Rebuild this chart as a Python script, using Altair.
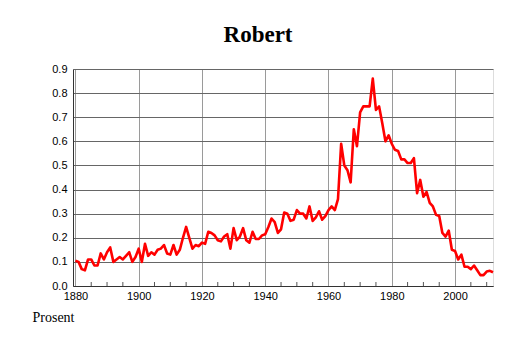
import altair as alt
import pandas as pd

years = list(range(1880, 2013))
values = [
    0.105, 0.10, 0.07, 0.065, 0.11, 0.11, 0.085, 0.085, 0.135, 0.11,
    0.14, 0.16, 0.10, 0.11, 0.12, 0.11, 0.125, 0.14, 0.10, 0.12,
    0.155, 0.10, 0.175, 0.125, 0.14, 0.13, 0.15, 0.155, 0.17, 0.135,
    0.13, 0.17, 0.13, 0.15, 0.20, 0.245, 0.20, 0.155, 0.17, 0.165,
    0.18, 0.175, 0.225, 0.22, 0.21, 0.19, 0.185, 0.205, 0.215, 0.155,
    0.24, 0.19, 0.205, 0.24, 0.19, 0.18, 0.225, 0.195, 0.195, 0.21,
    0.215, 0.245, 0.28, 0.265, 0.22, 0.235, 0.305, 0.30, 0.27, 0.275,
    0.315, 0.30, 0.30, 0.28, 0.33, 0.27, 0.285, 0.31, 0.275, 0.29,
    0.315, 0.33, 0.315, 0.36, 0.59, 0.50, 0.48, 0.43, 0.65, 0.58,
    0.72, 0.745, 0.745, 0.745, 0.86, 0.73, 0.745, 0.675, 0.60, 0.625,
    0.59, 0.565, 0.56, 0.525, 0.525, 0.51, 0.51, 0.53, 0.385, 0.44,
    0.37, 0.39, 0.345, 0.33, 0.295, 0.29, 0.22, 0.205, 0.23, 0.15,
    0.145, 0.11, 0.13, 0.08, 0.08, 0.07, 0.085, 0.065, 0.045, 0.045,
    0.06, 0.063, 0.057,
]
x_ticks = [1880, 1900, 1920, 1940, 1960, 1980, 2000]
y_ticks = [0.0, 0.1, 0.2, 0.3, 0.4, 0.5, 0.6, 0.7, 0.8, 0.9]
minor_ticks = [y for y in range(1885, 2012, 5) if y % 20 != 0]

df = pd.DataFrame({"year": years, "value": values})
ticks_df = pd.DataFrame({"year": minor_ticks})

x_scale = alt.Scale(domain=[1879.24, 2012], nice=False, zero=False)
y_scale = alt.Scale(domain=[0, 0.9], nice=False)

line = alt.Chart(df).mark_line(color="#ff0000", strokeWidth=2.6, strokeJoin="round").encode(
    x=alt.X("year:Q", scale=x_scale,
            axis=alt.Axis(values=x_ticks, format="d", grid=True, gridColor="#9a9a9a",
                          gridWidth=1, tickSize=0, labelPadding=4,
                          labelFont="Liberation Sans", labelFontSize=11, labelColor="#000",
                          domainColor="#333", title="Prosent",
                          titleFont="Liberation Serif", titleFontSize=14,
                          titleFontWeight="normal", titleColor="#000",
                          titleX=-41, titleY=35, titleAlign="left",
                          titleBaseline="alphabetic", titleAnchor="start")),
    y=alt.Y("value:Q", scale=y_scale,
            axis=alt.Axis(values=y_ticks, format=".1f", grid=True, gridColor="#666666",
                          gridWidth=1, tickSize=0, labelPadding=6,
                          labelFont="Liberation Sans", labelFontSize=11, labelColor="#000",
                          domainColor="#333", title=None)),
)

minor = alt.Chart(ticks_df).mark_rule(color="#555", strokeWidth=1).encode(
    x=alt.X("year:Q", scale=x_scale),
    y=alt.value(217),
    y2=alt.value(213),
)

chart = alt.layer(minor, line).properties(
    width=420,
    height=217,
    title=alt.TitleParams("Robert", font="Liberation Serif", fontSize=23,
                          fontWeight="bold", color="#000", anchor="middle",
                          dx=-25, offset=0, dy=2, baseline="alphabetic"),
    autosize=alt.AutoSizeParams(type="none"),
    padding={"left": 73, "top": 69, "right": 21, "bottom": 57},
).configure_view(stroke=None).configure(background="#ffffff")

chart.save("out.html", embed_options={"renderer": "svg", "actions": False})
